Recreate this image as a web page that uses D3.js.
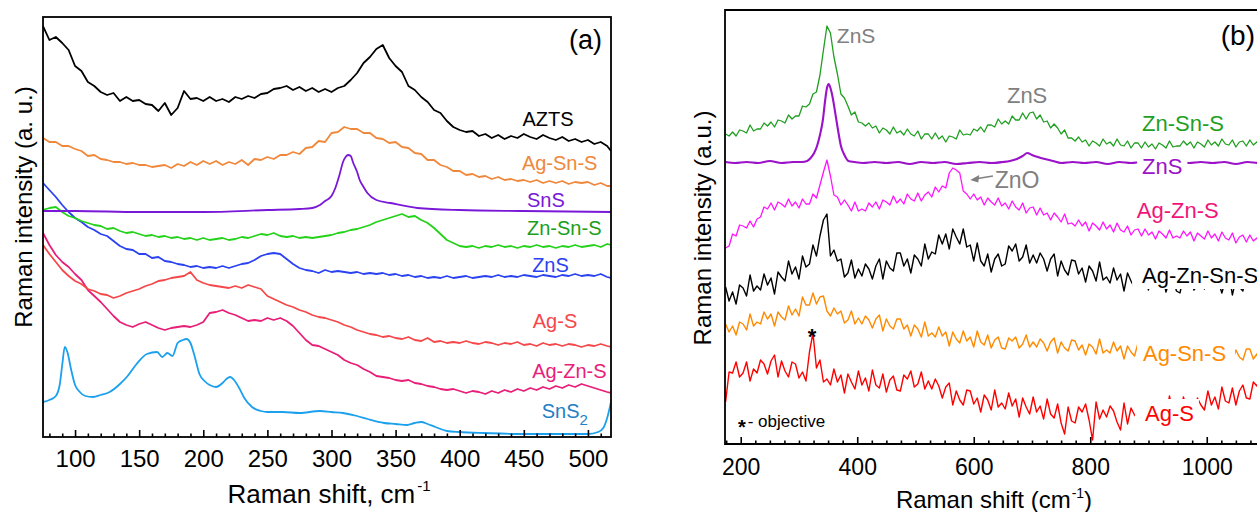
<!DOCTYPE html>
<html>
<head>
<meta charset="utf-8">
<script src="https://cdn.jsdelivr.net/npm/d3@7"></script>
<style>
  body { margin: 0; background: #ffffff; }
  svg { display: block; }
  text { font-family: "Liberation Sans", Arial, Helvetica, sans-serif; }
</style>
</head>
<body>
<svg id="chart" width="1257" height="512"></svg>
<script>
// ---------------- Panel (a): Raman spectra, 75–518 cm-1 (a.u., stacked) ----------------
const shiftA = [75,80,85,90,95,100,105,110,115,120,125,130,135,140,145,150,155,160,165,170,
  175,180,185,190,195,200,205,210,215,220,225,230,235,240,245,250,255,260,265,270,
  275,280,285,290,295,300,305,310,315,320,325,330,335,340,345,350,355,360,365,370,
  375,380,385,390,395,400,405,410,415,420,425,430,435,440,445,450,455,460,465,470,
  475,480,485,490,495,500,505,510,515,518];

const aztsA = [474,460,463,457,450,434,429,418,414,408,
  405,407,399,403,399,400,396,395,389,397,
  385,392,409,401,402,399,403,399,401,398,
  403,401,404,402,406,407,411,412,414,410,
  413,409,412,408,411,408,412,414,420,427,
  437,443,451,455,442,434,428,414,410,403,
  398,390,387,379,373,370,368,369,364,366,
  362,365,361,364,362,366,363,361,365,362,
  360,363,359,361,358,360,356,358,354,349];

const agSnSA = [362,358,358,354,354,351,349,344,345,341,
  340,338,338,336,337,335,335,333,334,335,
  332,336,334,338,335,339,336,339,335,338,
  336,340,335,341,340,343,341,345,345,348,
  346,352,353,359,358,367,368,373,371,371,
  367,367,362,361,357,358,353,352,347,346,
  340,340,335,333,329,329,325,326,323,324,
  321,323,320,321,319,320,318,320,317,319,
  317,319,316,318,317,318,315,317,314,314];

const snsShiftA = [75,100,150,200,250,275,285,291,295,300,303,306,309,311,313,315,317,320,322,325,328,335,346,367,400,450,518];
const snsA = [289,289,288,288,290,291,292,295,299,304,312,324,338,343,345,344,337,328,320,313,307,300,297,292,290,289,288];

const znSnSA = [290,292,293,288,284,282,279,277,275,274,
  271,272,269,267,268,266,264,265,263,264,
  262,263,261,262,260,262,260,261,262,260,
  261,263,262,264,266,265,267,264,263,264,
  262,263,262,263,264,265,267,268,270,271,
  273,275,278,280,282,284,286,283,284,280,
  277,272,266,260,257,254,253,254,252,254,
  253,255,253,254,252,254,253,255,253,254,
  252,254,253,255,253,254,255,253,256,255];

const znsA = [317,310,303,295,288,282,278,273,270,266,
  264,259,254,251,250,246,246,242,243,239,
  238,236,235,233,234,232,233,232,234,232,
  234,236,237,240,244,246,247,246,241,236,
  232,230,229,227,230,228,229,228,227,228,
  226,227,226,227,225,226,224,225,223,224,
  222,223,222,224,222,223,224,222,223,224,
  223,225,223,224,223,225,224,223,225,224,
  223,225,224,226,224,225,224,226,223,222];

const agSA = [255,246,238,230,224,219,216,211,209,206,
  205,202,204,207,209,211,214,216,219,220,
  222,223,224,228,220,217,215,214,213,212,
  214,212,215,213,211,204,201,198,195,193,
  190,188,185,183,182,180,178,175,173,170,
  168,166,165,163,164,162,161,163,160,159,
  162,158,159,157,158,157,159,157,156,158,
  157,155,157,156,158,155,156,154,157,155,
  156,154,156,155,153,155,154,156,154,153];

const agZnSA = [267,255,245,238,233,226,220,210,204,198,
  191,184,178,175,173,176,178,175,172,170,
  172,173,174,173,175,178,187,188,190,187,
  185,182,179,180,179,182,180,182,179,174,
  167,160,155,154,151,148,145,140,137,135,
  131,128,124,123,122,120,119,120,117,116,
  114,113,111,110,111,109,107,109,108,106,
  109,107,110,108,111,109,112,110,113,111,
  114,112,115,113,116,114,112,110,108,107];

const sns2ShiftA = [75,80,85,88,90,92,94,97,100,103,108,114,120,127,135,141,148,156,164,168,
  172,176,180,184,187,190,193,197,201,205,210,215,219,221,224,228,232,238,245,250,
  262,275,291,300,309,320,328,341,350,359,365,370,375,381,390,400,419,448,470,500,
  508,512,515,518];
const sns2A = [98,100,104,115,135,153,148,130,115,109,104,103,105,108,116,124,136,146,148,143,
  147,144,157,160,161,157,145,126,119,115,113,117,122,123,120,112,102,93,89,88,
  88,87,89,88,87,84,81,77,76,75,77,78,76,73,69,68,67,66,66,66,
  68,72,82,98];

const majorTicksA = [100,150,200,250,300,350,400,450,500];

// ---------------- Panel (b): Raman spectra, 173–1100 cm-1 (a.u., stacked) ----------------
const shiftB = [174,180,186,192,198,204,210,216,222,228,
  234,240,246,252,258,264,270,276,282,288,
  294,300,306,312,318,324,330,336,342,348,
  354,360,366,372,378,384,390,396,402,408,
  414,420,426,432,438,444,450,456,462,468,
  474,480,486,492,498,504,510,516,522,528,
  534,540,546,552,558,564,570,576,582,588,
  594,600,606,612,618,624,630,636,642,648,
  654,660,666,672,678,684,690,696,702,708,
  714,720,726,732,738,744,750,756,762,768,
  774,780,786,792,798,804,810,816,822,828,
  834,840,846,852,858,864,870,876,882,888,
  894,900,906,912,918,924,930,936,942,948,
  954,960,966,972,978,984,990,996,1002,1008,
  1014,1020,1026,1032,1038,1044,1050,1056,1062,1068,
  1074,1080,1086,1092,1098];

const znSnSB = [366,364,368,364,370,369,367,375,369,371,
  371,377,374,378,373,380,379,377,385,381,
  384,384,394,393,396,406,408,425,450,474,
  467,443,426,406,402,394,385,388,378,377,
  374,377,372,374,367,372,370,366,373,367,
  369,365,371,366,364,369,361,366,366,361,
  367,361,364,358,364,363,361,370,365,366,
  365,371,369,373,368,375,375,373,381,376,
  379,376,384,380,380,387,381,387,388,381,
  385,378,379,372,376,372,366,370,362,362,
  359,363,358,360,354,359,357,354,361,356,
  358,354,361,355,354,359,352,357,357,352,
  358,353,356,351,357,355,352,359,353,354,
  354,359,355,358,352,358,356,353,360,355,
  358,354,361,356,355,360,353,358,359,354,
  360,355,358,353,359];

const znsShiftB = [174,190,210,230,250,270,290,305,314,320,326,331,336,341,345,348,351,354,358,362,
  367,372,378,385,395,410,430,450,470,490,510,530,550,570,590,610,630,650,662,674,
  684,692,700,710,722,736,750,770,790,810,830,850,870,890,910,930,950,970,990,1010,
  1030,1050,1070,1090,1100];
const znsB = [338,337,338,337,339,337,338,338,339,342,347,354,365,380,400,412,416,412,402,388,
  370,354,345,339,338,337,338,337,338,336,338,337,338,336,337,338,337,338,339,341,
  344,347,345,343,341,339,337,338,337,338,336,338,337,338,337,336,338,337,338,337,
  338,336,338,337,338];

const agZnSB = [252,254,266,264,275,274,272,279,273,281,
  283,293,291,297,290,298,296,293,301,294,
  298,292,301,296,296,306,302,315,328,340,
  324,305,303,295,300,295,289,298,289,291,
  289,297,293,298,291,300,298,295,304,297,
  301,296,306,301,299,307,299,305,308,303,
  313,308,314,312,327,332,330,327,309,306,
  301,306,300,303,295,302,298,295,302,294,
  297,291,299,293,290,297,287,292,293,285,
  292,285,287,280,287,283,278,286,276,277,
  274,280,274,278,269,277,274,270,278,271,
  275,268,277,270,268,274,265,270,271,264,
  271,265,268,261,269,266,262,270,262,264,
  262,269,264,268,259,267,264,261,269,262,
  266,259,268,262,260,267,257,263,265,258,
  265,259,262,255,263];

const agZnSnSB = [213,199,208,196,215,212,204,225,209,214,
  210,226,215,222,206,228,223,219,239,226,
  233,221,244,233,236,255,244,264,280,286,
  244,250,239,241,223,227,240,222,231,224,
  236,231,221,234,241,221,239,232,229,247,
  247,234,241,227,245,241,234,256,241,248,
  246,265,256,266,251,271,263,256,271,253,
  255,239,257,239,234,246,228,241,246,234,
  236,254,249,256,239,243,255,237,245,237,
  247,241,229,241,246,224,239,230,225,240,
  239,226,232,218,234,229,219,238,220,223,
  217,232,220,226,209,227,219,212,230,216,
  223,210,230,215,212,226,208,219,223,209,
  207,223,218,226,210,215,228,211,220,213,
  223,218,207,220,226,205,221,213,209,225,
  225,212,218,204,221];

const agSnSB = [176,168,174,165,178,176,170,186,174,178,
  176,188,181,186,174,188,183,180,194,185,
  191,184,203,195,195,207,196,203,204,189,
  184,192,186,189,177,180,189,176,182,176,
  184,180,172,181,185,169,181,174,171,181,
  181,171,175,164,175,171,163,178,164,167,
  163,173,164,168,154,168,161,157,169,159,
  163,153,169,158,155,165,152,160,163,152,
  151,162,159,163,152,156,165,153,158,153,
  161,157,149,158,162,147,158,152,149,160,
  159,150,155,145,156,153,146,161,147,150,
  147,158,149,154,141,154,148,144,157,147,
  152,142,157,146,144,154,141,149,152,142,
  141,152,149,154,143,146,155,143,149,144,
  152,148,141,150,153,138,150,143,140,151,
  151,141,146,135,147];

const agSB = [98,128,127,138,123,127,138,119,131,127,
  140,136,126,139,145,123,139,129,123,138,
  136,122,128,119,148,167,132,140,118,121,
  115,131,118,125,107,126,118,111,129,115,
  122,109,130,115,112,126,108,120,124,110,
  109,125,121,129,113,116,128,111,119,111,
  121,114,102,113,117,95,109,100,95,110,
  109,96,102,88,105,100,90,110,93,97,
  91,107,94,101,83,102,93,86,103,88,
  94,81,101,86,82,96,77,66,93,79,
  77,93,88,96,80,60,98,81,90,83,
  94,89,78,70,97,76,92,85,81,97,
  98,85,93,79,97,92,84,104,87,91,
  86,103,91,98,82,102,95,90,109,95,
  103,91,113,99,97,112,95,109,115,102,
  101,118,114,123,108];

const majorTicksB = [200,400,600,800,1000];

// ---------------------------------------------------------------------------------------
const svg = d3.select("#chart");
svg.append("rect").attr("width", 1257).attr("height", 512).attr("fill", "#ffffff");

const pairs = (xs, ys) => d3.zip(xs, ys);

// ===== Panel (a) =====
const xA = d3.scaleLinear().domain([75, 518]).range([43, 611]);
const yA = d3.scaleLinear().domain([63, 483]).range([437, 17]);

const defs = svg.append("defs");
defs.append("clipPath").attr("id", "clipA").append("rect")
  .attr("x", xA.range()[0]).attr("y", yA.range()[1])
  .attr("width", xA.range()[1] - xA.range()[0]).attr("height", yA.range()[0] - yA.range()[1]);
defs.append("clipPath").attr("id", "clipB").append("rect")
  .attr("x", 725).attr("y", 10).attr("width", 540).attr("height", 434);

const seriesA = [
  { key: "SnS2",    xs: sns2ShiftA, ys: sns2A,  color: "#1ba0ee", smooth: true },
  { key: "Ag-Zn-S", xs: shiftA,     ys: agZnSA, color: "#e81e78" },
  { key: "Ag-S",    xs: shiftA,     ys: agSA,   color: "#f5484a" },
  { key: "ZnS",     xs: shiftA,     ys: znsA,   color: "#2a42f0" },
  { key: "Zn-Sn-S", xs: shiftA,     ys: znSnSA, color: "#25d21a" },
  { key: "SnS",     xs: snsShiftA,  ys: snsA,   color: "#7a18d8", smooth: true },
  { key: "Ag-Sn-S", xs: shiftA,     ys: agSnSA, color: "#f0883c" },
  { key: "AZTS",    xs: shiftA,     ys: aztsA,  color: "#000000" }
];

const gA = svg.append("g").attr("clip-path", "url(#clipA)");
seriesA.forEach(s => {
  const line = d3.line()
    .x(d => xA(d[0])).y(d => yA(d[1]))
    .curve(s.smooth ? d3.curveMonotoneX : d3.curveLinear);
  gA.append("path").datum(pairs(s.xs, s.ys))
    .attr("fill", "none").attr("stroke", s.color)
    .attr("stroke-width", 1.8).attr("stroke-linejoin", "round")
    .attr("d", line);
});

// bottom axis (a): ticks point inward
const axA = svg.append("g").attr("transform", `translate(0,${yA.range()[0]})`);
axA.call(d3.axisBottom(xA).tickValues(d3.range(80, 518, 10).filter(v => v % 50 !== 0))
  .tickSize(-3.5).tickFormat(""));
const axAMajor = svg.append("g").attr("transform", `translate(0,${yA.range()[0]})`);
axAMajor.call(d3.axisBottom(xA).tickValues(majorTicksA).tickFormat(d3.format("d"))
  .tickSizeInner(-7).tickSizeOuter(0).tickPadding(13));
[axA, axAMajor].forEach(g => {
  g.select(".domain").remove();
  g.selectAll(".tick line").attr("stroke", "#000").attr("stroke-width", 1.6);
});
axAMajor.selectAll(".tick text").attr("font-size", 24).attr("fill", "#000")
  .style("font-family", '"Liberation Sans", Arial, sans-serif');

// frame (a)
svg.append("rect")
  .attr("x", xA.range()[0]).attr("y", yA.range()[1])
  .attr("width", xA.range()[1] - xA.range()[0]).attr("height", yA.range()[0] - yA.range()[1])
  .attr("fill", "none").attr("stroke", "#000").attr("stroke-width", 1.8);

// series labels (a), anchored in data units
const labelsA = [
  { text: "AZTS",    v: 449, i: 374, color: "#000000" },
  { text: "Ag-Sn-S", v: 448.5, i: 330, color: "#f0883c" },
  { text: "SnS",     v: 452.5, i: 293, color: "#7a18d8" },
  { text: "Zn-Sn-S", v: 452.5, i: 265, color: "#1c9e1c" },
  { text: "ZnS",     v: 456.5, i: 228, color: "#2a42f0" },
  { text: "Ag-S",    v: 457, i: 172, color: "#f5484a" },
  { text: "Ag-Zn-S", v: 456.5, i: 122, color: "#e81e78" }
];
labelsA.forEach(l => {
  svg.append("text").attr("x", xA(l.v)).attr("y", yA(l.i))
    .attr("font-size", 20).attr("fill", l.color).text(l.text);
});
const sns2Label = svg.append("text").attr("x", xA(464)).attr("y", yA(82))
  .attr("font-size", 20).attr("fill", "#1f80c4");
sns2Label.append("tspan").text("SnS");
sns2Label.append("tspan").attr("font-size", 15).attr("dy", 7).text("2");

// panel tag and axis titles (a)
svg.append("text").attr("x", 602).attr("y", 49).attr("text-anchor", "end")
  .attr("font-size", 27).attr("fill", "#000").text("(a)");
const titleA = svg.append("text").attr("x", 329).attr("y", 503).attr("text-anchor", "middle")
  .attr("font-size", 26).attr("fill", "#000");
titleA.append("tspan").text("Raman shift, cm");
titleA.append("tspan").attr("font-size", 15).attr("dy", -12).attr("dx", 2).text("-1");
svg.append("text").attr("transform", "translate(32,207) rotate(-90)")
  .attr("text-anchor", "middle").attr("font-size", 24).attr("fill", "#000")
  .text("Raman intensity (a. u.)");

// ===== Panel (b) =====
const xB = d3.scaleLinear().domain([173, 1100]).range([725, 1265]);
const yB = d3.scaleLinear().domain([56, 490]).range([444, 10]);

const seriesB = [
  { key: "Ag-S",       xs: shiftB,    ys: agSB,     color: "#ff0000", w: 1.4 },
  { key: "Ag-Sn-S",    xs: shiftB,    ys: agSnSB,   color: "#ff8a00", w: 1.4 },
  { key: "Ag-Zn-Sn-S", xs: shiftB,    ys: agZnSnSB, color: "#000000", w: 1.4 },
  { key: "Ag-Zn-S",    xs: shiftB,    ys: agZnSB,   color: "#ff14ff", w: 1.3 },
  { key: "ZnS",        xs: znsShiftB, ys: znsB,     color: "#9b12c8", w: 2.1, smooth: true },
  { key: "Zn-Sn-S",    xs: shiftB,    ys: znSnSB,   color: "#1f9f1f", w: 1.3 }
];
const gB = svg.append("g").attr("clip-path", "url(#clipB)");
seriesB.forEach(s => {
  const line = d3.line()
    .x(d => xB(d[0])).y(d => yB(d[1]))
    .curve(s.smooth ? d3.curveMonotoneX : d3.curveLinear);
  gB.append("path").datum(pairs(s.xs, s.ys))
    .attr("fill", "none").attr("stroke", s.color)
    .attr("stroke-width", s.w).attr("stroke-linejoin", "round")
    .attr("d", line);
});

// series labels (b); some sit on an opaque box over their own trace
const labelsB = [
  { text: "Zn-Sn-S",    v: 889, i: 369, color: "#1f9f1f", box: false },
  { text: "ZnS",        v: 889, i: 326, color: "#9b12c8", box: true, padL: 5, padR: 5 },
  { text: "Ag-Zn-S",    v: 880, i: 282, color: "#f0147a", box: false },
  { text: "Ag-Zn-Sn-S", v: 889, i: 217, color: "#000000", box: true, padL: 10, padR: 6 },
  { text: "Ag-Sn-S",    v: 890.5, i: 139, color: "#ff8a00", box: true, padL: 6, padR: 9 },
  { text: "Ag-S",       v: 894, i: 79,  color: "#ff0000", box: true, padL: 10, padR: 5 }
];
const gLab = svg.append("g");
labelsB.forEach(l => {
  const t = gLab.append("text").attr("x", xB(l.v)).attr("y", yB(l.i))
    .attr("font-size", 22).attr("fill", l.color).text(l.text);
  if (l.box) {
    const b = t.node().getBBox();
    gLab.insert("rect", () => t.node())
      .attr("x", b.x - l.padL).attr("y", b.y - 2)
      .attr("width", b.width + l.padL + l.padR).attr("height", b.height + 3)
      .attr("fill", "#ffffff");
  }
});

// peak annotations (b)
const grey = "#808080";
svg.append("text").attr("x", xB(365)).attr("y", yB(457)).attr("font-size", 21).attr("fill", grey).text("ZnS");
svg.append("text").attr("x", xB(657)).attr("y", yB(397)).attr("font-size", 22).attr("fill", grey).text("ZnS");
svg.append("text").attr("x", xB(636)).attr("y", yB(312)).attr("font-size", 23).attr("fill", grey).text("ZnO");
const a0 = [xB(633), yB(324)], a1 = [xB(594), yB(320)];
svg.append("line").attr("x1", a0[0]).attr("y1", a0[1]).attr("x2", a1[0] + 6).attr("y2", a1[1] - 1.2)
  .attr("stroke", grey).attr("stroke-width", 1.5);
svg.append("path")
  .attr("d", `M${a1[0]},${a1[1]} L${a1[0] + 9},${a1[1] - 5} L${a1[0] + 8},${a1[1] + 2.5} Z`)
  .attr("fill", grey);

// objective line marker
svg.append("text").attr("x", xB(322.5)).attr("y", yB(156)).attr("text-anchor", "middle")
  .attr("font-size", 22).attr("font-weight", "bold").attr("fill", "#000").text("*");
svg.append("text").attr("x", xB(202)).attr("y", yB(66)).attr("text-anchor", "middle")
  .attr("font-size", 20).attr("font-weight", "bold").attr("fill", "#000").text("*");
svg.append("text").attr("x", xB(212)).attr("y", yB(73)).attr("font-size", 17)
  .attr("fill", "#000").text("- objective");

// bottom axis (b)
const axB = svg.append("g").attr("transform", `translate(0,${yB.range()[0]})`);
axB.call(d3.axisBottom(xB).tickValues(d3.range(175, 1100, 25).filter(v => v % 200 !== 0))
  .tickSize(-3.5).tickFormat(""));
const axBMajor = svg.append("g").attr("transform", `translate(0,${yB.range()[0]})`);
axBMajor.call(d3.axisBottom(xB).tickValues(majorTicksB).tickFormat(d3.format("d"))
  .tickSizeInner(-7).tickSizeOuter(0).tickPadding(15));
[axB, axBMajor].forEach(g => {
  g.select(".domain").remove();
  g.selectAll(".tick line").attr("stroke", "#000").attr("stroke-width", 1.6);
});
axBMajor.selectAll(".tick text").attr("font-size", 23).attr("fill", "#000")
  .style("font-family", '"Liberation Sans", Arial, sans-serif');

// frame (b): left, top and bottom edges
const fb = svg.append("g").attr("stroke", "#000").attr("stroke-width", 1.8).attr("fill", "none");
fb.append("path").attr("d", `M1265,${yB.range()[1]} H725 V${yB.range()[0]} H1265`);

// panel tag and axis titles (b)
svg.append("text").attr("x", 1255).attr("y", 45).attr("text-anchor", "end")
  .attr("font-size", 28).attr("fill", "#000").text("(b)");
const titleB = svg.append("text").attr("x", 994).attr("y", 508).attr("text-anchor", "middle")
  .attr("font-size", 24).attr("fill", "#000");
titleB.append("tspan").text("Raman shift (cm");
titleB.append("tspan").attr("font-size", 14).attr("dy", -10).attr("dx", 1).text("-1");
titleB.append("tspan").attr("dy", 10).text(")");
svg.append("text").attr("transform", "translate(711,228) rotate(-90)")
  .attr("text-anchor", "middle").attr("font-size", 24).attr("fill", "#000")
  .text("Raman intensity (a.u.)");
</script>
</body>
</html>
